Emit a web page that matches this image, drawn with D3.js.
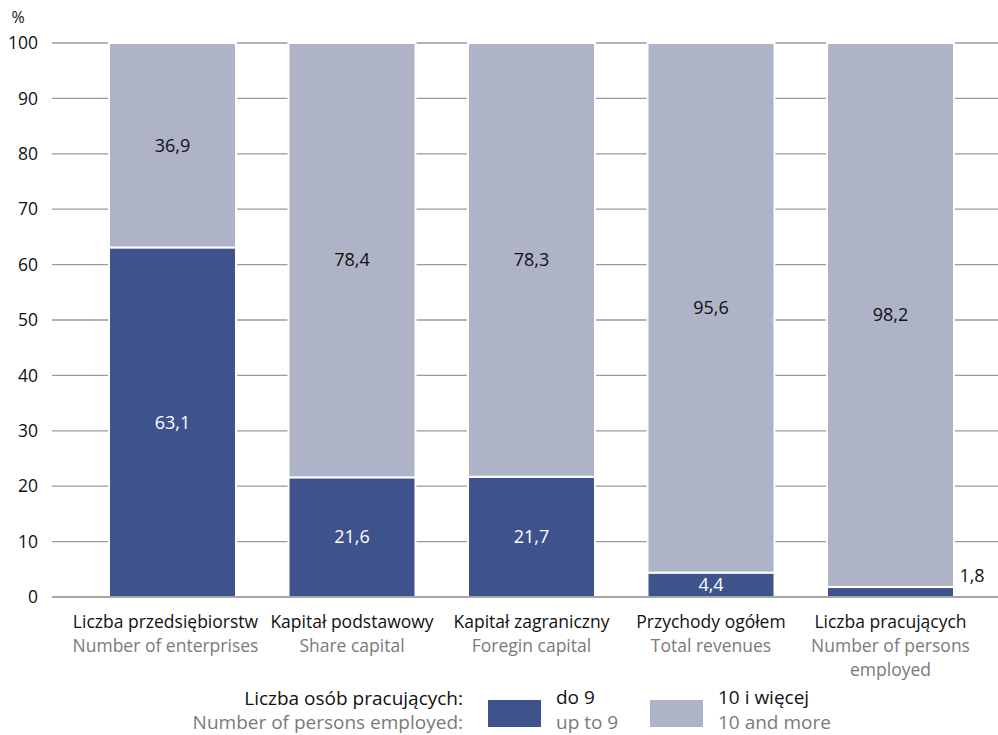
<!DOCTYPE html>
<html>
<head>
<meta charset="utf-8">
<script src="https://cdn.jsdelivr.net/npm/d3@7"></script>
<style>
  html, body { margin: 0; padding: 0; background: #fff; }
  svg { display: block; font-family: "Open Sans", "Noto Sans", sans-serif; }
</style>
</head>
<body>
<svg id="chart" width="998" height="735"></svg>
<script>
// Categories (Polish / English)
const categoriesPl = ["Liczba przedsiębiorstw", "Kapitał podstawowy", "Kapitał zagraniczny", "Przychody ogółem", "Liczba pracujących"];
const categoriesEn = [["Number of enterprises"], ["Share capital"], ["Foregin capital"], ["Total revenues"], ["Number of persons", "employed"]];
// Shares (%) by number of persons employed
const upTo9 = [63.1, 21.6, 21.7, 4.4, 1.8];
const tenAndMore = [36.9, 78.4, 78.3, 95.6, 98.2];
const yTicks = [0, 10, 20, 30, 40, 50, 60, 70, 80, 90, 100];
const seriesNames = [["do 9", "up to 9"], ["10 i więcej", "10 and more"]];
const legendTitle = ["Liczba osób pracujących:", "Number of persons employed:"];

const colDark = "#3e528c";
const colLight = "#aeb3c8";
const fmt = v => String(v.toFixed(1)).replace(".", ",");

const svg = d3.select("#chart");
const W = 998;
const axisLeft = 52;
const fs = 17.5;

const x = d3.scaleBand().domain(categoriesPl).range([109, 954]).paddingInner(0.2925).paddingOuter(0);
const y = d3.scaleLinear().domain([0, 100]).range([597, 43]);

// gridlines
svg.append("g").selectAll("line").data(yTicks.filter(d => d > 0)).join("line")
  .attr("x1", axisLeft).attr("x2", W)
  .attr("y1", d => y(d)).attr("y2", d => y(d))
  .attr("stroke", "#9a9a9a").attr("stroke-width", 1.3);

// y tick labels
svg.append("g").selectAll("text").data(yTicks).join("text")
  .attr("x", 38).attr("y", d => y(d)).attr("dy", "0.35em")
  .attr("text-anchor", "end").attr("font-size", fs).attr("fill", "#111")
  .text(d => d);
svg.append("text").attr("x", 18).attr("y", 23).attr("text-anchor", "middle")
  .attr("font-size", 16).attr("fill", "#111").text("%");

// stacked data
const rows = categoriesPl.map((c, i) => ({ cat: c, a: upTo9[i], b: tenAndMore[i] }));
const stack = d3.stack().keys(["a", "b"])(rows);
const colors = [colDark, colLight];

svg.append("g").selectAll("g").data(stack).join("g")
  .attr("fill", (d, i) => colors[i])
  .selectAll("rect").data(d => d).join("rect")
  .attr("x", d => x(d.data.cat))
  .attr("width", x.bandwidth())
  .attr("y", d => y(d[1]))
  .attr("height", d => y(d[0]) - y(d[1]))
  .attr("stroke", "#fff").attr("stroke-width", 2);

// baseline
svg.append("line").attr("x1", axisLeft).attr("x2", W)
  .attr("y1", y(0)).attr("y2", y(0))
  .attr("stroke", "#8a8a8a").attr("stroke-width", 1.6);

// value labels
const lbl = svg.append("g").attr("font-size", 18).attr("text-anchor", "middle");
rows.forEach((r, i) => {
  const cx = x(r.cat) + x.bandwidth() / 2;
  lbl.append("text").attr("x", cx).attr("y", y(r.a + r.b / 2)).attr("dy", "0.35em")
    .attr("fill", "#111").text(fmt(r.b));
  if (r.a >= 3) {
    lbl.append("text").attr("x", cx).attr("y", y(r.a / 2)).attr("dy", "0.35em")
      .attr("fill", "#fff").text(fmt(r.a));
  } else {
    lbl.append("text").attr("x", x(r.cat) + x.bandwidth() + 18).attr("y", y(r.a) - 11).attr("dy", "0.35em")
      .attr("fill", "#111").text(fmt(r.a));
  }
});

// category labels (first one nudged left to keep clear of its neighbour)
const cl = svg.append("g").attr("text-anchor", "middle").attr("font-size", fs);
categoriesPl.forEach((c, i) => {
  const cx = x(c) + x.bandwidth() / 2 + (i === 0 ? -7 : 0);
  cl.append("text").attr("x", cx).attr("y", 628).attr("fill", "#111").text(c);
  categoriesEn[i].forEach((t, j) => {
    cl.append("text").attr("x", cx).attr("y", 652 + j * 24).attr("fill", "#7a7a7a").text(t);
  });
});

// legend
const lg = svg.append("g").attr("font-size", 19);
lg.append("text").attr("x", 463).attr("y", 705).attr("text-anchor", "end").attr("fill", "#111").text(legendTitle[0]);
lg.append("text").attr("x", 463).attr("y", 729).attr("text-anchor", "end").attr("fill", "#7a7a7a").text(legendTitle[1]);
const legX = [488, 650];
seriesNames.forEach((s, i) => {
  lg.append("rect").attr("x", legX[i]).attr("y", 700).attr("width", 53).attr("height", 27).attr("fill", colors[i]);
  lg.append("text").attr("x", legX[i] + 68).attr("y", 704).attr("fill", "#111").text(s[0]);
  lg.append("text").attr("x", legX[i] + 68).attr("y", 729).attr("fill", "#7a7a7a").text(s[1]);
});
</script>
</body>
</html>
